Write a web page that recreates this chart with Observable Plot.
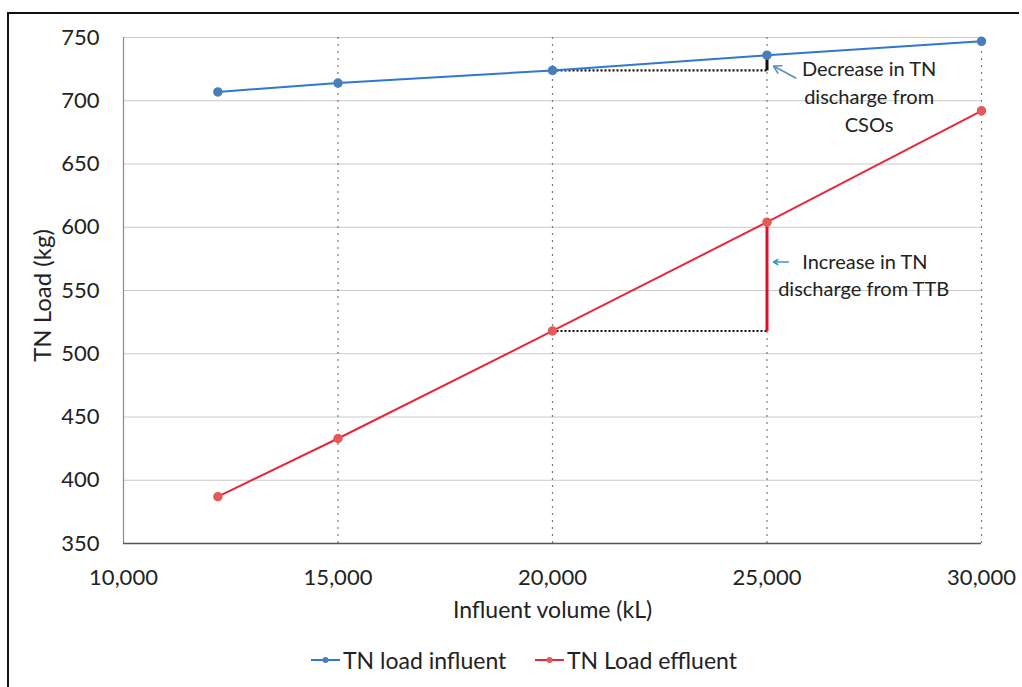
<!DOCTYPE html>
<html>
<head>
<meta charset="utf-8">
<script src="https://cdn.jsdelivr.net/npm/d3@7"></script>
<script src="https://cdn.jsdelivr.net/npm/@observablehq/plot@0.6"></script>
<style>
  html, body { margin: 0; padding: 0; background: #fff; width: 1022px; height: 687px; overflow: hidden; }
  #wrap { position: relative; width: 1022px; height: 687px; font-family: Lato, "Open Sans", sans-serif; }
  #frame { position: absolute; left: 7px; top: 12px; width: 1010px; height: 700px;
           border-top: 2px solid #111; border-left: 2px solid #111; pointer-events: none; }
  #chart { position: absolute; left: 0; top: 0; }
  #legend { position: absolute; left: 0; top: 630px; width: 1022px; height: 57px; font-size: 23px; color: #222; }
  .item { position: absolute; top: 16px; display: flex; align-items: center; white-space: nowrap; }
  .item svg { margin-right: 3px; }
</style>
</head>
<body>
<div id="wrap">
  <div id="chart"></div>
  <div id="legend"></div>
  <div id="frame"></div>
</div>
<script>
// ---- data ----
const volume   = [12200, 15000, 20000, 25000, 30000];
const influent = [707, 714, 724, 736, 747];
const effluent = [387, 433, 518, 604, 692];
const seriesNames = ["TN load influent", "TN Load effluent"];
const seriesColors = ["#2e78d2", "#e8263c"];
const markerColors = ["#4a7eb8", "#e45a58"];
const xTicks = [10000, 15000, 20000, 25000, 30000];
const yTicks = [350, 400, 450, 500, 550, 600, 650, 700, 750];
const xTitle = "Influent volume (kL)";
const yTitle = "TN Load (kg)";
// annotation labels (data coordinates)
const annoCentered = [
  {x: 27380, y: 704.5, text: "Decrease in TN\ndischarge from\nCSOs"}
];
const annoLeft = [
  {x: 25820, y: 572, text: "Increase in TN"},
  {x: 25260, y: 551, text: "discharge from TTB"}
];
const annoArrows = [
  {x1: 25670, y1: 718, x2: 25150, y2: 727.5, color: "#5b8fbf"},
  {x1: 25500, y1: 572.5, x2: 25150, y2: 572.5, color: "#3c9ab8"}
];

const inf = volume.map((v, i) => ({x: v, y: influent[i]}));
const eff = volume.map((v, i) => ({x: v, y: effluent[i]}));
// comparison segments from 20,000 to 25,000 kL
const a = 2, b = 3;
const hDotted = [
  {x1: volume[a], x2: volume[b], y: influent[a]},
  {x1: volume[a], x2: volume[b], y: effluent[a]}
];
const vInf = [{x: volume[b], y1: influent[a], y2: influent[b]}];
const vEff = [{x: volume[b], y1: effluent[a], y2: effluent[b]}];

const chart = Plot.plot({
  width: 1022,
  height: 630,
  marginLeft: 123,
  marginRight: 41,
  marginTop: 37,
  marginBottom: 87,
  style: {fontFamily: "Lato, 'Open Sans', sans-serif", background: "transparent", color: "#222", overflow: "visible"},
  x: {domain: [10000, 30000]},
  y: {domain: [350, 750]},
  marks: [
    Plot.ruleY(yTicks.filter(d => d > 350), {stroke: "#c9c9c9", strokeWidth: 1.2}),
    Plot.ruleX(xTicks.filter(d => d > 10000), {stroke: "#7a7a7a", strokeDasharray: "2,5", strokeWidth: 1.2}),
    Plot.ruleX([10000], {stroke: "#8a8a8a", strokeWidth: 1.2}),
    Plot.ruleY([350], {stroke: "#555", strokeWidth: 1.3}),
    Plot.axisX({ticks: xTicks, tickSize: 0, tickPadding: 26, tickFormat: d3.format(","), fontSize: 22, label: null, fill: "#222"}),
    Plot.axisY({ticks: yTicks, tickSize: 0, tickPadding: 24, fontSize: 22, label: null, fill: "#222"}),
    // comparison annotations
    Plot.link(hDotted, {x1: "x1", x2: "x2", y1: "y", y2: "y", stroke: "#111", strokeWidth: 2.2, strokeDasharray: "2,2"}),
    Plot.link(vInf, {x1: "x", x2: "x", y1: "y1", y2: "y2", stroke: "#111", strokeWidth: 3}),
    Plot.link(vEff, {x1: "x", x2: "x", y1: "y1", y2: "y2", stroke: "#e0102a", strokeWidth: 3}),
    // series
    Plot.line(inf, {x: "x", y: "y", stroke: seriesColors[0], strokeWidth: 2}),
    Plot.line(eff, {x: "x", y: "y", stroke: seriesColors[1], strokeWidth: 2}),
    Plot.dot(inf, {x: "x", y: "y", r: 4, fill: markerColors[0], stroke: markerColors[0]}),
    Plot.dot(eff, {x: "x", y: "y", r: 4, fill: markerColors[1], stroke: markerColors[1]}),
    // annotation text & arrows
    Plot.arrow(annoArrows, {x1: "x1", y1: "y1", x2: "x2", y2: "y2", stroke: d => d.color, strokeWidth: 1.6, headLength: 8}),
    Plot.text(annoCentered, {x: "x", y: "y", text: "text", textAnchor: "middle", lineAnchor: "middle", lineHeight: 1.4, fontSize: 20, fill: "#222"}),
    Plot.text(annoLeft, {x: "x", y: "y", text: "text", textAnchor: "start", lineAnchor: "middle", fontSize: 20, fill: "#222"}),
    // axis titles
    Plot.text([xTitle], {frameAnchor: "bottom", textAnchor: "middle", dy: 74, fontSize: 23, fill: "#222"}),
    Plot.text([yTitle], {frameAnchor: "left", textAnchor: "middle", dx: -80, dy: 5, rotate: -90, fontSize: 24, fill: "#222"})
  ]
});
document.getElementById("chart").appendChild(chart);

// legend
const legend = document.getElementById("legend");
const legendLeft = [311, 535];
seriesNames.forEach((name, i) => {
  const item = document.createElement("div");
  item.className = "item";
  item.style.left = legendLeft[i] + "px";
  item.innerHTML = `<svg width="29" height="12"><line x1="0" y1="6" x2="29" y2="6" stroke="${seriesColors[i]}" stroke-width="2"/><circle cx="14.5" cy="6" r="3" fill="${markerColors[i]}"/></svg>`;
  const span = document.createElement("span");
  span.textContent = name;
  item.appendChild(span);
  legend.appendChild(item);
});
</script>
</body>
</html>
